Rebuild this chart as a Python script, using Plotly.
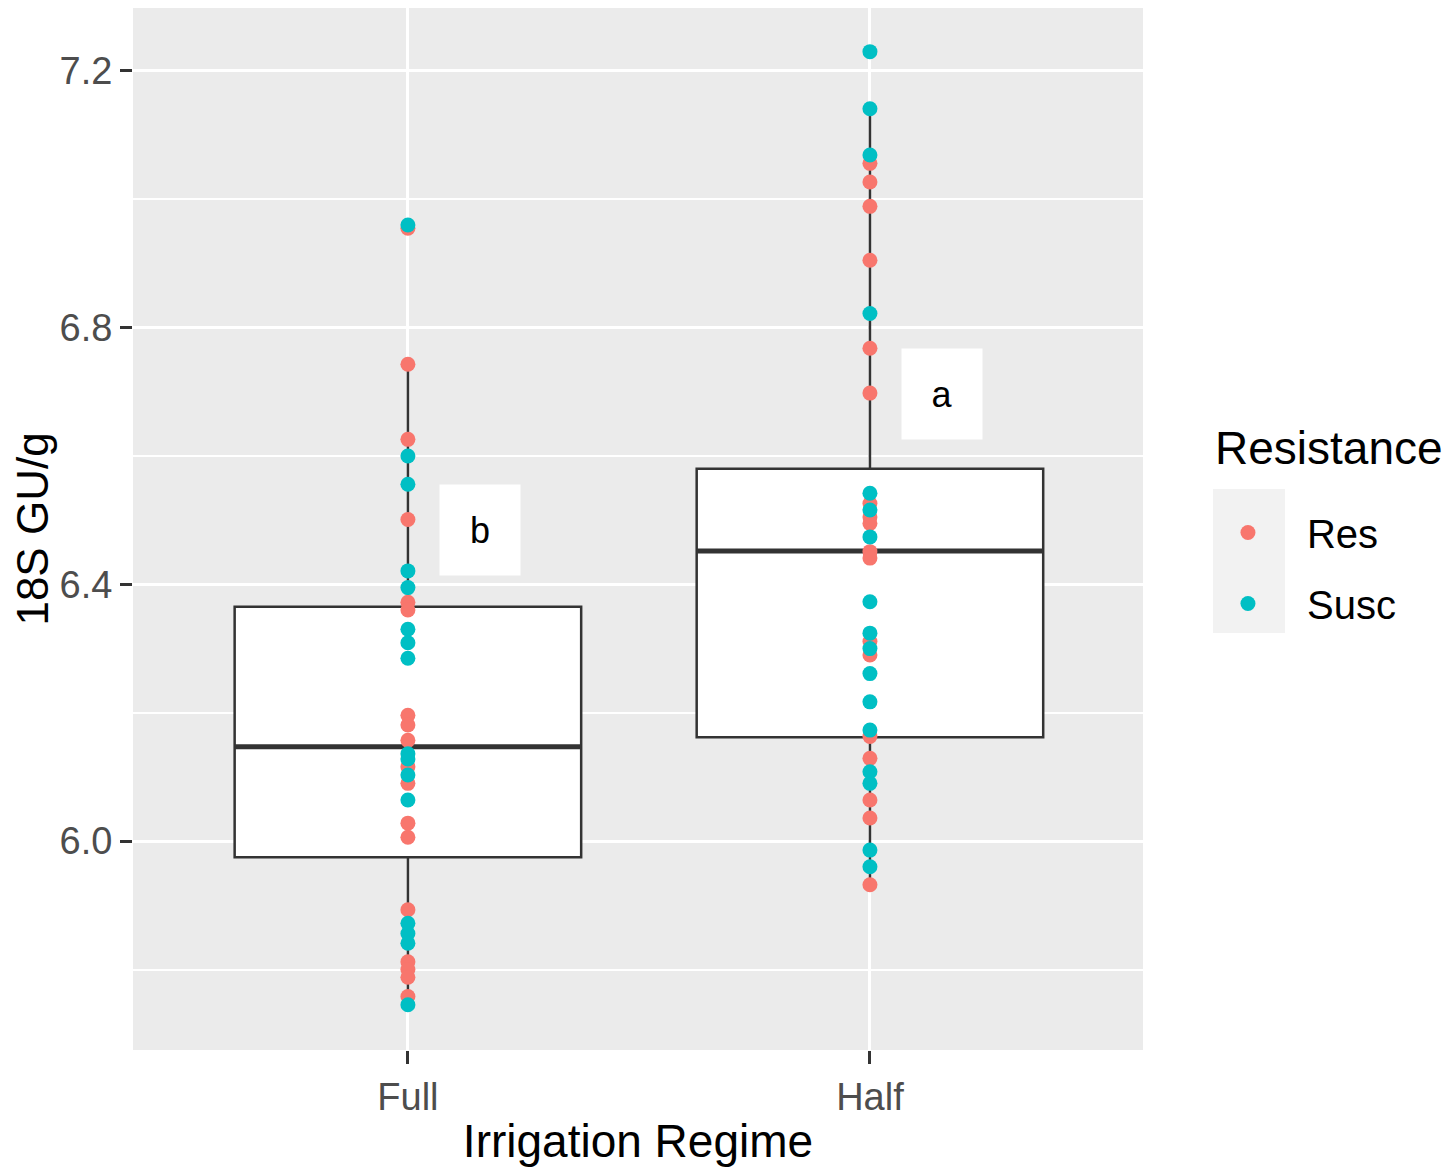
import plotly.graph_objects as go

# categories (numeric positions 1, 2 on the x axis)
regimes = ["Full", "Half"]
regime_pos = [1, 2]

# points, per regime and resistance class
full_res = [6.955, 6.743, 6.626, 6.501, 6.372, 6.360, 6.196, 6.181, 6.157, 6.116,
            6.090, 6.028, 6.006, 5.893, 5.812, 5.800, 5.788, 5.758]
full_susc = [6.960, 6.600, 6.556, 6.421, 6.395, 6.330, 6.309, 6.285, 6.136, 6.128,
             6.103, 6.064, 5.872, 5.856, 5.841, 5.745]
half_res = [7.056, 7.027, 6.989, 6.905, 6.768, 6.698, 6.526, 6.505, 6.495, 6.451,
            6.441, 6.311, 6.290, 6.163, 6.129, 6.064, 6.036, 5.932]
half_susc = [7.230, 7.141, 7.069, 6.822, 6.542, 6.516, 6.474, 6.373, 6.324, 6.300,
             6.261, 6.217, 6.173, 6.108, 6.090, 5.986, 5.960]

# box statistics (Full, Half)
box_q1 = [5.975, 6.162]
box_median = [6.147, 6.452]
box_q3 = [6.365, 6.580]
box_lower = [5.745, 5.932]
box_upper = [6.743, 7.141]

# letters of the significance groups
letters = ["b", "a"]
letter_y = [6.485, 6.696]

RES_COL = "#F8766D"
SUSC_COL = "#00BFC4"
BOX_W = 0.75
FONT = "Liberation Sans, Arial, sans-serif"

fig = go.Figure()

fig.add_trace(go.Box(
    x=regime_pos, q1=box_q1, median=box_median, q3=box_q3,
    lowerfence=box_lower, upperfence=box_upper,
    width=BOX_W, whiskerwidth=0, boxpoints=False,
    fillcolor="white", line=dict(color="#333333", width=2.5),
    showlegend=False, hoverinfo="skip",
))

# thicker median bar like ggplot
med_x, med_y = [], []
for p, m in zip(regime_pos, box_median):
    med_x += [p - BOX_W / 2, p + BOX_W / 2, None]
    med_y += [m, m, None]
fig.add_trace(go.Scatter(x=med_x, y=med_y, mode="lines",
                         line=dict(color="#333333", width=5),
                         showlegend=False, hoverinfo="skip"))

fig.add_trace(go.Scatter(
    x=[1] * len(full_res) + [2] * len(half_res), y=full_res + half_res,
    mode="markers", name="Res", legendgroup="Res",
    marker=dict(color=RES_COL, size=15),
))
fig.add_trace(go.Scatter(
    x=[1] * len(full_susc) + [2] * len(half_susc), y=full_susc + half_susc,
    mode="markers", name="Susc", legendgroup="Susc",
    marker=dict(color=SUSC_COL, size=15),
))

for p, lab, ly in zip(regime_pos, letters, letter_y):
    fig.add_annotation(x=p + 0.155, y=ly, text=lab, showarrow=False,
                       bgcolor="white", width=78, height=88,
                       font=dict(family=FONT, size=36, color="black"))

# legend title drawn as text so the gap to the keys can match
fig.add_annotation(xref="paper", yref="paper", x=1.069, y=0.578,
                   xanchor="left", yanchor="middle", showarrow=False,
                   text="Resistance", font=dict(family=FONT, size=46, color="black"))

# grey background behind legend keys
fig.add_shape(type="rect", xref="paper", yref="paper",
              x0=1.0693, x1=1.1406, y0=0.4002, y1=0.5384,
              fillcolor="#F2F2F2", line_width=0, layer="below")

fig.update_layout(
    width=1450, height=1175,
    margin=dict(l=125, r=315, t=0, b=133),
    paper_bgcolor="white", plot_bgcolor="#EBEBEB",
    font=dict(family=FONT, color="black"),
    legend=dict(
        font=dict(size=40), x=1.0455, xanchor="left", y=0.4626, yanchor="middle",
        itemwidth=108, tracegroupgap=16, bgcolor="rgba(0,0,0,0)",
    ),
    xaxis=dict(
        range=[0.405, 2.591], tickvals=regime_pos, ticktext=regimes,
        showgrid=True, gridcolor="white", gridwidth=3, zeroline=False,
        ticks="outside", ticklen=13, tickwidth=2.5, tickcolor="#333333",
        tickfont=dict(size=38, color="#4D4D4D"),
        title=dict(text="Irrigation Regime", font=dict(size=46), standoff=8),
    ),
    yaxis=dict(
        range=[5.6746, 7.298], tick0=6.0, dtick=0.4, tickformat=".1f",
        showgrid=True, gridcolor="white", gridwidth=3, zeroline=False,
        minor=dict(tick0=5.8, dtick=0.2, showgrid=True, gridcolor="white", gridwidth=1.5),
        ticks="outside", ticklen=12, tickwidth=2.5, tickcolor="#333333",
        tickfont=dict(size=38, color="#4D4D4D"),
        title=dict(text="18S GU/g", font=dict(size=44), standoff=8),
    ),
)

fig.write_html("out.html")
